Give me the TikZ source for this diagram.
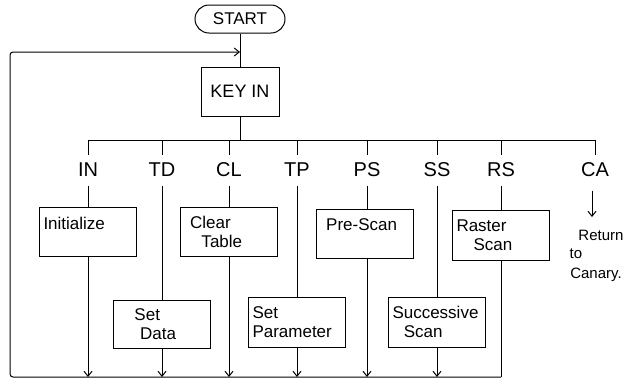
\documentclass[tikz,border=0pt]{standalone}
\usepackage{fontspec}
\setmainfont{Liberation Sans}
\usetikzlibrary{arrows.meta}
\begin{document}
\begin{tikzpicture}[x=1pt,y=-1pt,
  line width=1pt,
  every node/.style={font=\fontsize{17}{19}\selectfont},
  box/.style={draw,minimum width=97pt,minimum height=49pt,inner sep=4pt,text width=89pt,align=left},
  tag/.style={minimum height=30pt,inner sep=0pt,font=\fontsize{20}{22}\selectfont},
  down/.style={-{Straight Barb[length=5pt,width=8pt]}},
  note/.style={inner sep=0pt,font=\fontsize{15}{17}\selectfont}]
\useasboundingbox (0,0) rectangle (641,384);
% top
\node[draw,rounded corners=14pt,minimum width=90pt,minimum height=28pt,inner sep=0pt,font=\fontsize{17}{19}\selectfont] (start) at (240,19) {START};
\node[draw,minimum width=78pt,minimum height=49pt,font=\fontsize{18}{20}\selectfont] (keyin) at (240,91.5) {KEY IN};
\coordinate (loopin) at (240,52);
\coordinate (barmid) at (240,140);
\coordinate (barl) at (88,140);
\coordinate (barr) at (595,140);
\coordinate (busy) at (0,377);
\coordinate (busl) at (10,377);
\coordinate (busr) at (501,377);
\coordinate (loopl) at (10,52);
\draw (start) -- (keyin);
\draw (keyin) -- (barmid);
\draw (barl) -- (barr);
% labels
\foreach \n/\t/\x in {in/IN/88, td/TD/162, cl/CL/229, tp/TP/297, ps/PS/367, ss/SS/437, rs/RS/501, ca/CA/595}{
  \node[tag] (\n) at (\x,170) {\t};
  \draw (\n.north |- barl) -- (\n.north);
}
% boxes
\node[box] (init) at (88,231.5) {Initialize\\[-2pt]~};
\node[box] (cltab) at (229,231.5) {\ Clear\\\ \ \ Table};
\node[box] (pre) at (365,233.5) {\ Pre-Scan\\[-2pt]~};
\node[box,minimum height=50pt] (raster) at (501,235) {Raster\\\ \ \ Scan};
\node[box,minimum height=48pt] (setdata) at (162,324) {\ \ \ Set\\\ \ \ \ Data};
\node[box,minimum height=50pt] (setpar) at (297,322) {Set\\Parameter};
\node[box,minimum height=50pt] (succ) at (437,322) {Successive\\\ \ Scan};
% vertical flow
\draw (in) -- (init);
\draw (td) -- (setdata);
\draw (cl) -- (cltab);
\draw (tp) -- (setpar);
\draw (ps.south) -- (ps.south |- pre.north);
\draw (ss) -- (succ);
\draw (rs) -- (raster);
\foreach \b in {init,setdata,cltab,setpar,succ}{
  \draw[down] (\b.south) -- (\b.south |- busy);
}
\draw[down] (ps.south |- pre.south) -- (ps.south |- busy);
% return bus
\draw (raster.south) -- (busr);
\draw[-{Straight Barb[length=5pt,width=8pt]},rounded corners=3pt] (busr) -- (busl) -- (loopl) -- (loopin);
% CA
\coordinate (caend) at (592,217);
\draw[down] ([yshift=-5pt]ca.south -| caend) -- (caend);
\node[note] (ret) at (601,235) {Return};
\node[note] (to) at (576,254) {to};
\node[note] (canary) at (596,275) {Canary.};
\end{tikzpicture}
\end{document}
